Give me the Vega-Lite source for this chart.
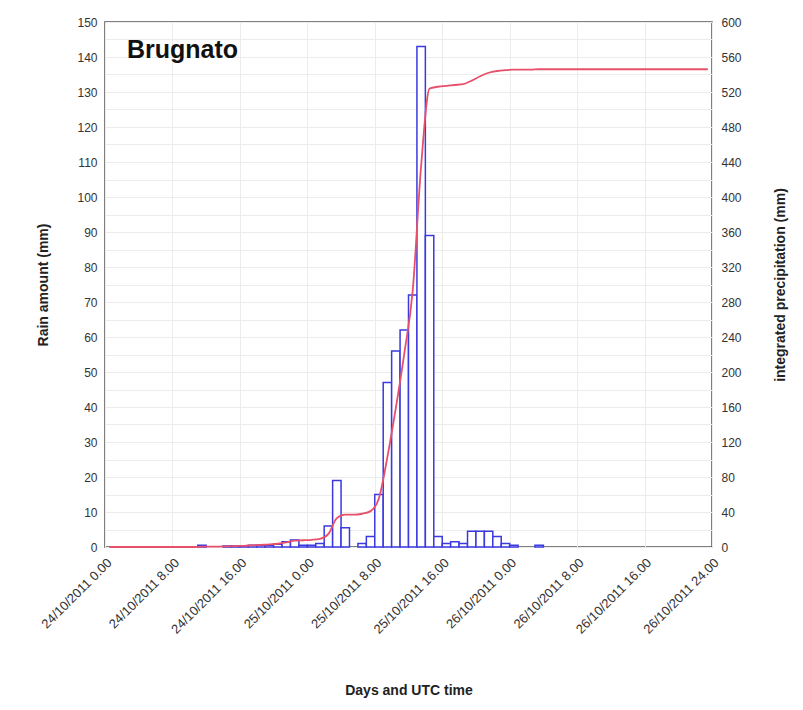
{
  "$schema": "https://vega.github.io/schema/vega-lite/v6.json",
  "width": 607,
  "height": 525,
  "autosize": "none",
  "padding": {"left": 105, "top": 22, "right": 91, "bottom": 163},
  "background": "white",
  "config": {
    "font": "Liberation Sans",
    "view": {"stroke": "#555555", "strokeWidth": 1.5},
    "axis": {"labelFont": "Liberation Sans", "titleFont": "Liberation Sans", "labelColor": "#333333", "titleColor": "#222222", "labelFontSize": 12, "titleFontSize": 14, "titleFontWeight": "bold", "domain": false, "tickColor": "#555555", "gridColor": "#ececec", "gridWidth": 1}
  },
  "data": {"values": [
    {"t0":0,"t1":1,"tm":0.5,"rain":0,"cum":0},
    {"t0":1,"t1":2,"tm":1.5,"rain":0,"cum":0},
    {"t0":2,"t1":3,"tm":2.5,"rain":0,"cum":0},
    {"t0":3,"t1":4,"tm":3.5,"rain":0,"cum":0},
    {"t0":4,"t1":5,"tm":4.5,"rain":0,"cum":0},
    {"t0":5,"t1":6,"tm":5.5,"rain":0,"cum":0},
    {"t0":6,"t1":7,"tm":6.5,"rain":0,"cum":0},
    {"t0":7,"t1":8,"tm":7.5,"rain":0,"cum":0},
    {"t0":8,"t1":9,"tm":8.5,"rain":0,"cum":0},
    {"t0":9,"t1":10,"tm":9.5,"rain":0,"cum":0},
    {"t0":10,"t1":11,"tm":10.5,"rain":0,"cum":0},
    {"t0":11,"t1":12,"tm":11.5,"rain":0.5,"cum":0.5},
    {"t0":12,"t1":13,"tm":12.5,"rain":0,"cum":0.5},
    {"t0":13,"t1":14,"tm":13.5,"rain":0,"cum":0.5},
    {"t0":14,"t1":15,"tm":14.5,"rain":0.3,"cum":0.8},
    {"t0":15,"t1":16,"tm":15.5,"rain":0.3,"cum":1.1},
    {"t0":16,"t1":17,"tm":16.5,"rain":0.3,"cum":1.4},
    {"t0":17,"t1":18,"tm":17.5,"rain":0.5,"cum":1.9},
    {"t0":18,"t1":19,"tm":18.5,"rain":0.5,"cum":2.4},
    {"t0":19,"t1":20,"tm":19.5,"rain":0.5,"cum":2.9},
    {"t0":20,"t1":21,"tm":20.5,"rain":0.8,"cum":3.7},
    {"t0":21,"t1":22,"tm":21.5,"rain":1.5,"cum":5.2},
    {"t0":22,"t1":23,"tm":22.5,"rain":2,"cum":7.2},
    {"t0":23,"t1":24,"tm":23.5,"rain":0.5,"cum":7.7},
    {"t0":24,"t1":25,"tm":24.5,"rain":0.5,"cum":8.2},
    {"t0":25,"t1":26,"tm":25.5,"rain":1,"cum":9.2},
    {"t0":26,"t1":27,"tm":26.5,"rain":6,"cum":15},
    {"t0":27,"t1":28,"tm":27.5,"rain":19,"cum":33},
    {"t0":28,"t1":29,"tm":28.5,"rain":5.5,"cum":37},
    {"t0":29,"t1":30,"tm":29.5,"rain":0,"cum":37},
    {"t0":30,"t1":31,"tm":30.5,"rain":1,"cum":38},
    {"t0":31,"t1":32,"tm":31.5,"rain":3,"cum":41},
    {"t0":32,"t1":33,"tm":32.5,"rain":15,"cum":56},
    {"t0":33,"t1":34,"tm":33.5,"rain":47,"cum":103},
    {"t0":34,"t1":35,"tm":34.5,"rain":56,"cum":159},
    {"t0":35,"t1":36,"tm":35.5,"rain":62,"cum":221},
    {"t0":36,"t1":37,"tm":36.5,"rain":72,"cum":293},
    {"t0":37,"t1":38,"tm":37.5,"rain":143,"cum":436},
    {"t0":38,"t1":39,"tm":38.5,"rain":89,"cum":524},
    {"t0":39,"t1":40,"tm":39.5,"rain":3,"cum":526},
    {"t0":40,"t1":41,"tm":40.5,"rain":1,"cum":527},
    {"t0":41,"t1":42,"tm":41.5,"rain":1.5,"cum":528},
    {"t0":42,"t1":43,"tm":42.5,"rain":1,"cum":529},
    {"t0":43,"t1":44,"tm":43.5,"rain":4.5,"cum":533},
    {"t0":44,"t1":45,"tm":44.5,"rain":4.5,"cum":538},
    {"t0":45,"t1":46,"tm":45.5,"rain":4.5,"cum":542},
    {"t0":46,"t1":47,"tm":46.5,"rain":3,"cum":544},
    {"t0":47,"t1":48,"tm":47.5,"rain":1,"cum":545},
    {"t0":48,"t1":49,"tm":48.5,"rain":0.5,"cum":545.5},
    {"t0":49,"t1":50,"tm":49.5,"rain":0,"cum":545.5},
    {"t0":50,"t1":51,"tm":50.5,"rain":0,"cum":545.5},
    {"t0":51,"t1":52,"tm":51.5,"rain":0.5,"cum":546},
    {"t0":52,"t1":53,"tm":52.5,"rain":0,"cum":546},
    {"t0":53,"t1":54,"tm":53.5,"rain":0,"cum":546},
    {"t0":54,"t1":55,"tm":54.5,"rain":0,"cum":546},
    {"t0":55,"t1":56,"tm":55.5,"rain":0,"cum":546},
    {"t0":56,"t1":57,"tm":56.5,"rain":0,"cum":546},
    {"t0":57,"t1":58,"tm":57.5,"rain":0,"cum":546},
    {"t0":58,"t1":59,"tm":58.5,"rain":0,"cum":546},
    {"t0":59,"t1":60,"tm":59.5,"rain":0,"cum":546},
    {"t0":60,"t1":61,"tm":60.5,"rain":0,"cum":546},
    {"t0":61,"t1":62,"tm":61.5,"rain":0,"cum":546},
    {"t0":62,"t1":63,"tm":62.5,"rain":0,"cum":546},
    {"t0":63,"t1":64,"tm":63.5,"rain":0,"cum":546},
    {"t0":64,"t1":65,"tm":64.5,"rain":0,"cum":546},
    {"t0":65,"t1":66,"tm":65.5,"rain":0,"cum":546},
    {"t0":66,"t1":67,"tm":66.5,"rain":0,"cum":546},
    {"t0":67,"t1":68,"tm":67.5,"rain":0,"cum":546},
    {"t0":68,"t1":69,"tm":68.5,"rain":0,"cum":546},
    {"t0":69,"t1":70,"tm":69.5,"rain":0,"cum":546},
    {"t0":70,"t1":71,"tm":70.5,"rain":0,"cum":546},
    {"t0":71,"t1":72,"tm":71.5,"rain":0,"cum":546}
  ]},
  "layer": [
    {
      "transform": [{"filter": "datum.rain > 0"}],
      "mark": {"type": "bar", "fill": "white", "stroke": "#3a3ae0", "strokeWidth": 1.5},
      "encoding": {
        "x": {"field": "t0", "type": "quantitative", "title": "Days and UTC time", "scale": {"domain": [0, 72], "nice": false, "zero": false},
          "axis": {"title": "Days and UTC time", "values": [0,2,4,6,8,10,12,14,16,18,20,22,24,26,28,30,32,34,36,38,40,42,44,46,48,50,52,54,56,58,60,62,64,66,68,70,72],
            "labelExpr": "datum.value == 72 ? '26/10/2011 24.00' : (datum.value % 8 == 0 ? (24 + floor(datum.value / 24)) + '/10/2011 ' + (datum.value % 24) + '.00' : '')",
            "labelAngle": -45, "labelFontSize": 13, "tickSize": 0, "labelPadding": 9, "titlePadding": 47, "grid": true, "labelOverlap": false, "labelBound": false}},
        "x2": {"field": "t1"},
        "y": {"field": "rain", "type": "quantitative", "scale": {"domain": [0, 150], "nice": false},
          "axis": {"title": "Rain amount (mm)", "values": [0,5,10,15,20,25,30,35,40,45,50,55,60,65,70,75,80,85,90,95,100,105,110,115,120,125,130,135,140,145,150],
            "labelExpr": "datum.value % 10 == 0 ? datum.value : ''", "tickSize": 0, "labelPadding": 8, "titlePadding": 26, "grid": true}},
        "y2": {"datum": 0}
      }
    },
    {
      "mark": {"type": "line", "color": "#e8506a", "strokeWidth": 1.8, "interpolate": "monotone"},
      "encoding": {
        "x": {"field": "tm", "type": "quantitative", "title": "Days and UTC time"},
        "y": {"field": "cum", "type": "quantitative", "scale": {"domain": [0, 600], "nice": false},
          "axis": {"orient": "right", "title": "integrated precipitation (mm)", "titleAngle": 270, "values": [0,40,80,120,160,200,240,280,320,360,400,440,480,520,560,600], "tickSize": 0, "labelPadding": 9, "titlePadding": 46, "grid": false}}
      }
    },
    {
      "data": {"values": [{"station": "Brugnato", "px": 2.6, "py": 142}]},
      "mark": {"type": "text", "font": "Liberation Sans", "fontSize": 25, "fontWeight": "bold", "align": "left", "baseline": "middle", "color": "#111111"},
      "encoding": {
        "text": {"field": "station"},
        "x": {"field": "px", "type": "quantitative", "title": "Days and UTC time"},
        "y": {"field": "py", "type": "quantitative", "scale": {"domain": [0, 150], "nice": false}, "axis": null}
      }
    }
  ],
  "resolve": {"scale": {"y": "independent"}}
}
